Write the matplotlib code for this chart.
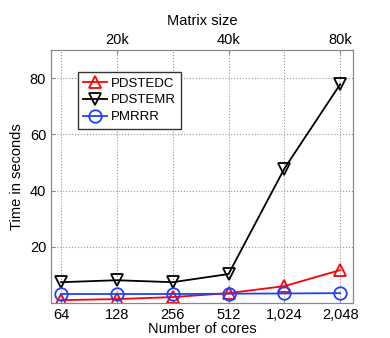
import numpy as np
import matplotlib
matplotlib.use("Agg")
import matplotlib.pyplot as plt

plt.rcParams['font.family'] = ['Liberation Sans', 'DejaVu Sans']

# data
cores = ["64", "128", "256", "512", "1,024", "2,048"]
pdstedc = [1.0, 1.4, 2.1, 3.5, 6.0, 11.7]
pdstemr = [7.4, 8.1, 7.4, 10.3, 47.8, 77.8]
pmrrr = [3.2, 3.2, 3.2, 3.3, 3.4, 3.5]
size_labels = ["20k", "40k", "80k"]
size_pos = [1, 3, 5]

x = np.arange(len(cores))

fig = plt.figure(figsize=(3.9, 3.38), dpi=100)
ax = fig.add_axes([51/390, 1-303/338, 302/390, 253/338])

ax.plot(x, pdstedc, color='red', marker='^', ms=9, mfc='none', mew=1.3, lw=1.3, label='PDSTEDC')
ax.plot(x, pdstemr, color='black', marker='v', ms=9, mfc='none', mew=1.3, lw=1.3, label='PDSTEMR')
ax.plot(x, pmrrr, color='#2040ff', marker='o', ms=9, mfc='none', mew=1.3, lw=1.3, label='PMRRR')

ax.set_xlim(-0.18, 5.23)
ax.set_ylim(0, 90)
ax.set_xticks(x)
ax.set_xticklabels(cores)
ax.set_yticks([20, 40, 60, 80])
ax.grid(True, linestyle=':', color='#999999', lw=0.8)
ax.tick_params(labelsize=10.5, direction='in', length=3, colors='#888888', labelcolor='black')
for s in ax.spines.values():
    s.set_color('#888888')
ax.set_xlabel("Number of cores", fontsize=10.5, labelpad=0)
ax.set_ylabel("Time in seconds", fontsize=10.5, labelpad=4)

top = ax.twiny()
top.set_xlim(ax.get_xlim())
top.set_xticks(size_pos)
top.set_xticklabels(size_labels)
top.tick_params(labelsize=10.5, direction='in', length=3, colors='#888888', labelcolor='black', pad=2)
for s in top.spines.values():
    s.set_color('#888888')
top.set_xlabel("Matrix size", fontsize=10.5, labelpad=6)

leg = ax.legend(loc='upper left', bbox_to_anchor=(0.089, 0.913), fontsize=9.5, fancybox=False,
                handlelength=1.8, borderpad=0.4, labelspacing=0.35, handletextpad=0.3,
                borderaxespad=0, framealpha=1)
leg.get_frame().set_edgecolor('#333333')
leg.get_frame().set_linewidth(1.0)

fig.savefig("out.png", dpi=100)
